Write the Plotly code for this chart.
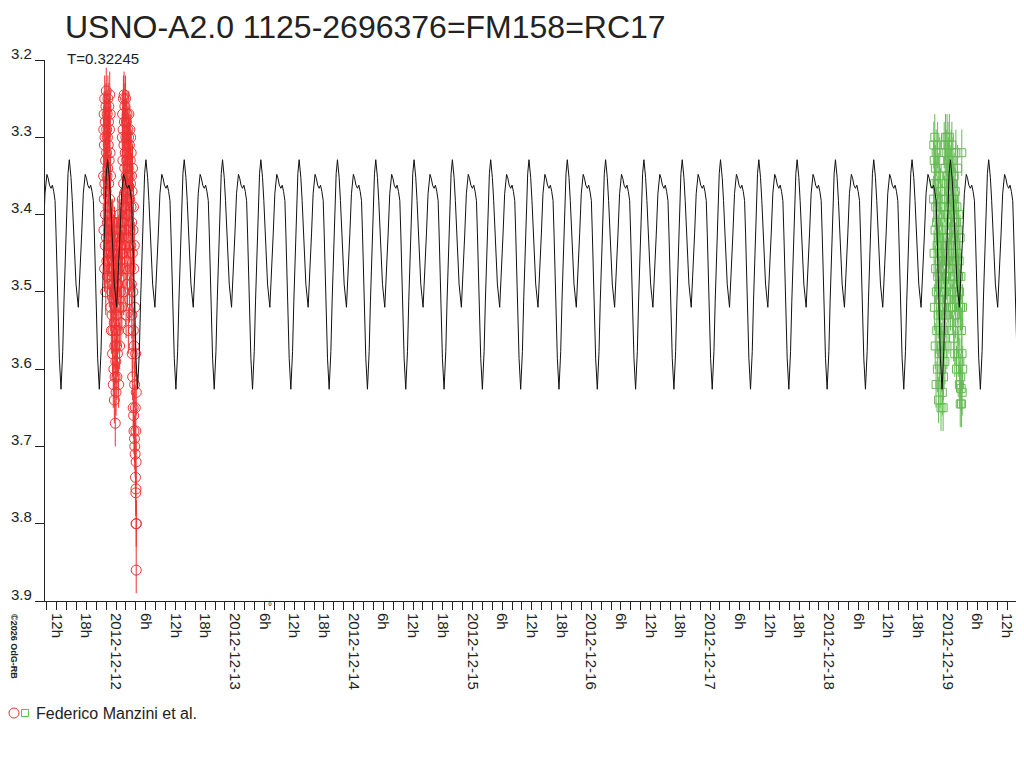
import pandas as pd
import plotly.graph_objects as go

# light-curve fit: one cycle, phase 0 = deep minimum
period = 0.32245  # days
epoch = -0.46296  # days from 2012-12-12 00:00 (a deep minimum)
tmpl_phase = [0.000, 0.045, 0.078, 0.112, 0.149, 0.183, 0.217, 0.261, 0.295, 0.347,
              0.392, 0.452, 0.496, 0.540, 0.582, 0.632, 0.665, 0.700, 0.740, 0.775,
              0.810, 0.845, 0.871, 0.905, 0.931, 0.957]
tmpl_mag = [3.626, 3.577, 3.512, 3.447, 3.390, 3.347, 3.329, 3.352, 3.382, 3.447,
            3.490, 3.520, 3.480, 3.425, 3.373, 3.348, 3.353, 3.362, 3.366, 3.362,
            3.370, 3.382, 3.425, 3.490, 3.547, 3.586]

# Federico Manzini et al. - first night (minutes from 2012-12-12 00:00, mag)
red_points = [
    (-150, 3.35), (-148, 3.29), (-146, 3.42), (-144, 3.27), (-143, 3.38), (-141, 3.31), (-139, 3.47), (-137, 3.25),
    (-135, 3.36), (-133, 3.30), (-131, 3.44), (-130, 3.28), (-128, 3.40), (-126, 3.33), (-124, 3.50), (-122, 3.26),
    (-120, 3.37), (-118, 3.24), (-117, 3.43), (-115, 3.32), (-113, 3.29), (-111, 3.46), (-109, 3.35), (-107, 3.27),
    (-105, 3.41), (-104, 3.30), (-102, 3.48), (-100, 3.34), (-98, 3.25), (-96, 3.39), (-94, 3.31), (-92, 3.45),
    (-91, 3.28), (-89, 3.36), (-87, 3.26), (-85, 3.42), (-83, 3.33), (-81, 3.49), (-79, 3.29), (-78, 3.38),
    (-76, 3.245), (-74, 3.44), (-72, 3.32), (-70, 3.27), (-68, 3.40), (-66, 3.35),
    (-64, 3.52), (-62, 3.43), (-60, 3.47), (-58, 3.41), (-56, 3.55), (-54, 3.45), (-52, 3.50), (-50, 3.42),
    (-48, 3.53), (-46, 3.44), (-44, 3.48), (-42, 3.58), (-40, 3.41), (-39, 3.46), (-37, 3.55), (-35, 3.49),
    (-33, 3.62), (-31, 3.43), (-29, 3.51), (-27, 3.45), (-26, 3.60), (-24, 3.47), (-22, 3.54), (-20, 3.64),
    (-18, 3.42), (-16, 3.50), (-14, 3.57), (-13, 3.45), (-11, 3.61), (-9, 3.67), (-7, 3.52), (-5, 3.48),
    (-3, 3.59), (-1, 3.55), (1, 3.63), (3, 3.50), (5, 3.46), (7, 3.57), (9, 3.53), (11, 3.61),
    (14, 3.44), (17, 3.58), (20, 3.49), (23, 3.41), (26, 3.55), (29, 3.47), (32, 3.62), (35, 3.43),
    (38, 3.52), (41, 3.40), (44, 3.57), (47, 3.46), (50, 3.42), (53, 3.50), (56, 3.44), (59, 3.54),
    (62, 3.41), (65, 3.48), (68, 3.45), (71, 3.52), (74, 3.43),
    (76, 3.30), (78, 3.38), (80, 3.27), (82, 3.45), (84, 3.33), (86, 3.29), (88, 3.41), (90, 3.25),
    (92, 3.36), (94, 3.50), (96, 3.31), (98, 3.245), (100, 3.39), (102, 3.28), (104, 3.44), (106, 3.34),
    (108, 3.26), (110, 3.47), (112, 3.32), (114, 3.37), (116, 3.25), (118, 3.42), (120, 3.30), (122, 3.53),
    (124, 3.35), (126, 3.28), (128, 3.40), (130, 3.33), (132, 3.46), (134, 3.27), (136, 3.38), (138, 3.31),
    (140, 3.49), (142, 3.36), (144, 3.29), (146, 3.43), (148, 3.34), (150, 3.55), (152, 3.30), (154, 3.40),
    (156, 3.27), (158, 3.45), (160, 3.35), (162, 3.31), (164, 3.51), (166, 3.38), (168, 3.29), (170, 3.42),
    (172, 3.33), (174, 3.47), (176, 3.36), (178, 3.30), (180, 3.44), (182, 3.39), (184, 3.32), (186, 3.49),
    (188, 3.35), (190, 3.41),
    (192, 3.53), (194, 3.37), (196, 3.58), (198, 3.45), (200, 3.34), (202, 3.61), (204, 3.50), (206, 3.42),
    (208, 3.65), (210, 3.55), (212, 3.39), (214, 3.66), (216, 3.47), (218, 3.68), (220, 3.57), (222, 3.44),
    (224, 3.69), (226, 3.62), (228, 3.70), (230, 3.52), (232, 3.71), (234, 3.65), (236, 3.74), (238, 3.58),
    (240, 3.76), (241, 3.68), (242, 3.755), (243, 3.80), (244, 3.72), (245, 3.86), (246, 3.63), (247, 3.80),
]
red_err = 0.03

# second night (minutes from 2012-12-19 00:00, mag)
green_points = [
    (-169, 3.38), (-167, 3.31), (-164, 3.45), (-162, 3.33), (-160, 3.52), (-157, 3.36), (-155, 3.30), (-152, 3.42),
    (-150, 3.57), (-148, 3.34), (-145, 3.47), (-143, 3.39), (-140, 3.62), (-138, 3.32), (-136, 3.50), (-133, 3.41),
    (-131, 3.55), (-128, 3.36), (-126, 3.44), (-124, 3.60), (-121, 3.31), (-119, 3.48), (-116, 3.38), (-114, 3.53),
    (-112, 3.43), (-109, 3.64), (-107, 3.35), (-104, 3.46), (-102, 3.58), (-100, 3.40), (-97, 3.51), (-95, 3.33),
    (-92, 3.62), (-90, 3.45), (-88, 3.55), (-85, 3.37), (-83, 3.49), (-80, 3.65), (-78, 3.42), (-76, 3.57),
    (-73, 3.47), (-71, 3.60), (-68, 3.39), (-66, 3.53), (-64, 3.63), (-61, 3.44), (-59, 3.58), (-56, 3.50),
    (-54, 3.65), (-52, 3.46), (-49, 3.61),
    (-47, 3.55), (-44, 3.43), (-41, 3.31), (-39, 3.50), (-36, 3.38), (-33, 3.59), (-30, 3.34), (-28, 3.46),
    (-25, 3.30), (-22, 3.53), (-19, 3.40), (-17, 3.32), (-14, 3.48), (-11, 3.36), (-8, 3.57), (-6, 3.30),
    (-3, 3.43), (0, 3.35), (3, 3.51), (5, 3.31), (8, 3.39), (11, 3.46), (14, 3.33), (16, 3.55),
    (19, 3.37), (22, 3.30), (25, 3.44), (27, 3.49), (30, 3.34), (33, 3.41), (36, 3.52), (38, 3.36),
    (41, 3.47), (44, 3.32), (47, 3.43), (49, 3.38),
    (52, 3.31), (55, 3.45), (57, 3.36), (60, 3.52), (63, 3.40), (65, 3.33), (68, 3.48), (71, 3.38),
    (73, 3.56), (76, 3.43), (79, 3.35), (81, 3.50), (84, 3.41), (87, 3.58), (89, 3.46), (92, 3.37),
    (95, 3.53), (97, 3.44), (100, 3.32), (103, 3.49), (105, 3.41), (108, 3.60), (111, 3.47), (113, 3.39),
    (116, 3.55), (119, 3.45), (121, 3.34), (124, 3.51), (127, 3.42), (129, 3.58), (132, 3.48), (135, 3.40),
    (137, 3.54), (140, 3.46), (143, 3.62), (145, 3.50), (148, 3.59), (151, 3.43), (153, 3.645), (156, 3.52),
    (159, 3.61), (161, 3.48), (164, 3.625), (167, 3.55), (169, 3.645), (172, 3.32), (175, 3.58), (177, 3.63),
    (180, 3.52), (183, 3.60),
]
green_err = 0.03

day_labels = ["2012-12-11", "2012-12-12", "2012-12-13", "2012-12-14", "2012-12-15",
              "2012-12-16", "2012-12-17", "2012-12-18", "2012-12-19"]
hour_labels = {6: "6h", 12: "12h", 18: "18h"}
y_ticks = [3.2, 3.3, 3.4, 3.5, 3.6, 3.7, 3.8, 3.9]

FONT = "Liberation Sans, Arial, sans-serif"
RED = "#ee3333"
GREEN = "#66bb55"
INK = "#222222"

base12 = pd.Timestamp("2012-12-12")
base19 = pd.Timestamp("2012-12-19")

red_x = [base12 + pd.Timedelta(minutes=m) for m, _ in red_points]
red_y = [v for _, v in red_points]
green_x = [base19 + pd.Timedelta(minutes=m) for m, _ in green_points]
green_y = [v for _, v in green_points]

# repeat the one-cycle template over the whole time span
fit_x, fit_y = [], []
for n in range(-2, 27):
    for ph, mg in zip(tmpl_phase, tmpl_mag):
        fit_x.append(base12 + pd.Timedelta(days=epoch + (n + ph) * period))
        fit_y.append(mg)

# tick labels every 6 h: date at midnight, hour otherwise
tickvals, ticktext = [], []
for d in day_labels:
    for h in [0, 6, 12, 18]:
        t = pd.Timestamp(d) + pd.Timedelta(hours=h)
        tickvals.append(t)
        ticktext.append(d if h == 0 else hour_labels[h])

fig = go.Figure()

fig.add_trace(go.Scatter(
    x=red_x, y=red_y, mode="markers", name="Federico Manzini et al.",
    marker=dict(symbol="circle-open", size=10, color=RED, line=dict(width=1, color=RED)),
    error_y=dict(type="constant", value=red_err, width=0, thickness=1, color=RED),
))
fig.add_trace(go.Scatter(
    x=green_x, y=green_y, mode="markers", name="Federico Manzini et al.",
    marker=dict(symbol="square-open", size=8, color=GREEN, line=dict(width=1, color=GREEN)),
    error_y=dict(type="constant", value=green_err, width=0, thickness=1, color=GREEN),
))
fig.add_trace(go.Scatter(
    x=fit_x, y=fit_y, mode="lines", name="fit",
    line=dict(color="#111111", width=1),
))

# the page body adds 8 px on the top and left, so the figure is 8 px smaller
fig.update_layout(
    width=1016, height=760,
    margin=dict(l=37, r=1, t=52, b=167),
    paper_bgcolor="white", plot_bgcolor="white",
    showlegend=False,
    font=dict(family=FONT, color=INK),
    title=dict(
        text="USNO-A2.0 1125-2696376=FM158=RC17",
        font=dict(size=32, color=INK, family=FONT),
        x=57 / 1016, xref="container", xanchor="left",
        y=1 - 19 / 760, yref="container", yanchor="middle",
        automargin=False,
    ),
)

fig.update_xaxes(
    type="date", automargin=False,
    range=["2012-12-11 09:39:24", "2012-12-19 15:14:00"],
    tickmode="array", tickvals=tickvals, ticktext=ticktext,
    tickangle=90, tickfont=dict(size=15, color=INK),
    ticks="outside", ticklen=8, tickcolor=INK,
    minor=dict(tickmode="linear", tick0="2012-12-12", dtick=2 * 3600 * 1000,
               ticks="outside", ticklen=8, tickcolor=INK, showgrid=False),
    showline=True, linecolor=INK, linewidth=1,
    showgrid=False, zeroline=False,
)
fig.update_yaxes(
    automargin=False,
    range=[3.9, 3.2],
    tickmode="array", tickvals=y_ticks, showticklabels=False,
    ticks="outside", ticklen=9, tickcolor=INK,
    showline=True, linecolor=INK, linewidth=1,
    showgrid=False, zeroline=False,
)

# y labels sit at the far left, a little above their ticks
for v in y_ticks:
    fig.add_annotation(
        text=f"{v:.1f}", xref="paper", yref="y", x=0, y=v,
        xshift=-36.5, yshift=7, xanchor="left", yanchor="middle",
        showarrow=False, font=dict(size=15, color=INK, family=FONT),
    )

fig.add_annotation(
    text="T=0.32245", xref="paper", yref="paper", x=0, y=1,
    xshift=20, yshift=2, xanchor="left", yanchor="middle",
    showarrow=False, font=dict(size=15, color=INK, family=FONT),
)

# legend drawn by hand: both symbols before the one name
fig.add_shape(type="circle", xref="paper", yref="paper", xsizemode="pixel", ysizemode="pixel",
              xanchor=0, yanchor=0, x0=-36, x1=-26, y0=-117, y1=-107,
              line=dict(color=RED, width=1))
fig.add_shape(type="rect", xref="paper", yref="paper", xsizemode="pixel", ysizemode="pixel",
              xanchor=0, yanchor=0, x0=-23.5, x1=-16.5, y0=-115.5, y1=-108.5,
              line=dict(color=GREEN, width=1))
fig.add_annotation(
    text="Federico Manzini et al.", xref="paper", yref="paper", x=0, y=0,
    xshift=-11, yshift=-112, xanchor="left", yanchor="middle",
    showarrow=False, font=dict(size=16, color=INK, family=FONT),
)

fig.add_annotation(
    text="<b>©2026 OdG-RB</b>", xref="paper", yref="paper", x=0, y=0,
    xshift=-31, yshift=-45, xanchor="center", yanchor="middle", textangle=90,
    showarrow=False, font=dict(size=9, color=INK, family=FONT),
)
fig.add_annotation(
    text="°", xref="paper", yref="paper", x=0, y=0,
    xshift=225, yshift=-5, xanchor="center", yanchor="middle",
    showarrow=False, font=dict(size=10, color=INK, family=FONT),
)

fig.write_html("out.html")
